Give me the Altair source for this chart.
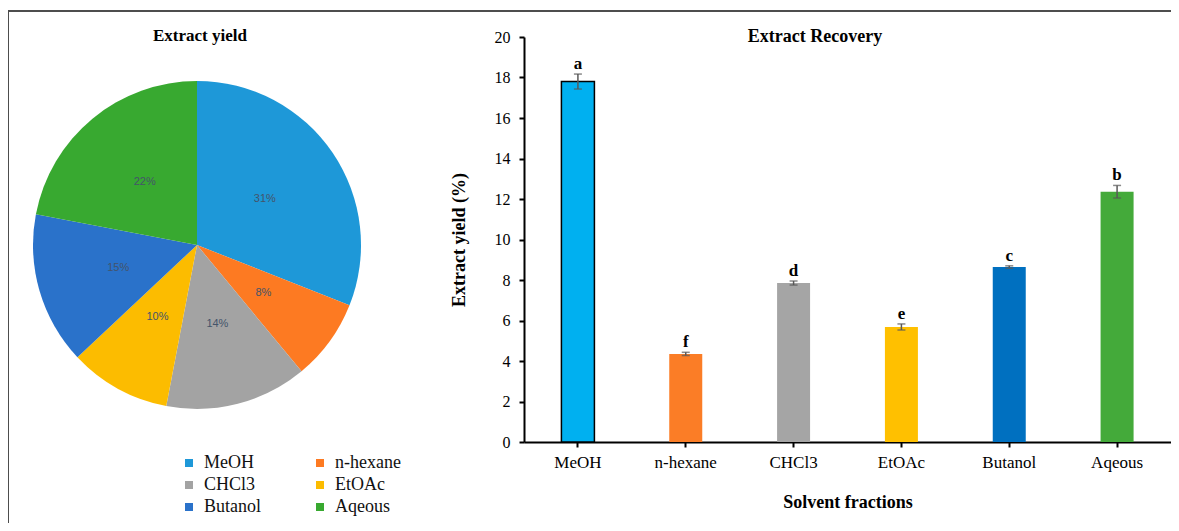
import altair as alt
import pandas as pd

# ---- data ----
solvents = ["MeOH", "n-hexane", "CHCl3", "EtOAc", "Butanol", "Aqeous"]
pie_pct = [31, 8, 14, 10, 15, 22]
yields = [17.8, 4.35, 7.85, 5.68, 8.64, 12.36]
errors = [0.37, 0.08, 0.10, 0.15, 0.06, 0.31]
letters = ["a", "f", "d", "e", "c", "b"]
y_ticks = [0, 2, 4, 6, 8, 10, 12, 14, 16, 18, 20]

pie_colors = ["#1E98D8", "#FD7A22", "#A3A3A3", "#FCBC00", "#2A72CA", "#38A930"]
bar_colors = ["#00B0F0", "#FB7D26", "#A5A5A5", "#FFC000", "#0070C0", "#44AA3A"]

SERIF = "Liberation Serif"

pie_df = pd.DataFrame({
    "solvent": solvents,
    "pct": pie_pct,
    "label": [f"{p}%" for p in pie_pct],
    "idx": list(range(len(solvents))),
})
bar_df = pd.DataFrame({
    "solvent": solvents,
    "yield": yields,
    "lo": [v - e for v, e in zip(yields, errors)],
    "hi": [v + e for v, e in zip(yields, errors)],
    "letter": letters,
})

# layout (pixels relative to bar plot origin)
PW, PH = 647, 405
CX, CY, R = -327, 208, 164

one = pd.DataFrame({"k": [0]})
frame_top = alt.Chart(one).mark_rule(stroke="#4d4d4d", strokeWidth=2).encode(
    x=alt.value(-516), x2=alt.value(PW), y=alt.value(-26), y2=alt.value(-26)
)
frame_left = alt.Chart(one).mark_rule(stroke="#4d4d4d", strokeWidth=2).encode(
    x=alt.value(-516), x2=alt.value(-516), y=alt.value(-27), y2=alt.value(PH + 81)
)

pie = alt.Chart(pie_df).mark_arc(radius=R).encode(
    theta=alt.Theta("pct:Q", stack=True),
    order=alt.Order("idx:Q"),
    color=alt.Color(
        "solvent:N",
        sort=solvents,
        scale=alt.Scale(domain=solvents, range=pie_colors),
        legend=alt.Legend(
            title=None, orient="none", legendX=-344, legendY=417,
            columns=2, columnPadding=50, rowPadding=4,
            symbolType="square", symbolSize=64, symbolStrokeWidth=0,
            labelFont=SERIF, labelFontSize=18, labelColor="#111111",
            labelOffset=6, direction="horizontal",
        ),
    ),
    x=alt.value(CX), y=alt.value(CY),
)

pie_labels = alt.Chart(pie_df).mark_text(
    radius=82, font="Liberation Sans", fontSize=11, color="#44546A"
).encode(
    theta=alt.Theta("pct:Q", stack=True),
    order=alt.Order("idx:Q"),
    text="label:N",
    x=alt.value(CX), y=alt.value(CY),
)

pie_title = alt.Chart(pd.DataFrame({"t": ["Extract yield"]})).mark_text(
    font=SERIF, fontSize=17, fontWeight="bold", color="black", baseline="middle"
).encode(text="t:N", x=alt.value(-324), y=alt.value(-1))

bar_title = alt.Chart(pd.DataFrame({"t": ["Extract Recovery"]})).mark_text(
    font=SERIF, fontSize=18, fontWeight="bold", color="black", baseline="middle"
).encode(text="t:N", x=alt.value(291), y=alt.value(0))

xenc = alt.X(
    "solvent:N", sort=solvents,
    scale=alt.Scale(domain=solvents, paddingInner=0, paddingOuter=0),
    axis=alt.Axis(
        title="Solvent fractions", labelAngle=0, labelFont=SERIF, labelFontSize=17,
        labelColor="black", labelPadding=7, domainColor="black", domainWidth=2,
        tickColor="black", tickWidth=2, tickSize=5,
        titleFont=SERIF, titleFontSize=18, titleFontWeight="bold", titleColor="black",
        titleY=65, titleBaseline="alphabetic",
    ),
)
yenc = alt.Y(
    "yield:Q",
    scale=alt.Scale(domain=[0, 20], nice=False),
    axis=alt.Axis(
        title="Extract yield (%)", values=y_ticks, grid=False,
        labelFont=SERIF, labelFontSize=16, labelColor="black", labelPadding=9,
        domainColor="black", domainWidth=2, tickColor="black", tickWidth=2, tickSize=5,
        titleFont=SERIF, titleFontSize=18, titleFontWeight="bold", titleColor="black",
        titleX=-65, titleY=PH / 2, titleAngle=270, titleBaseline="middle", titleAlign="center",
    ),
)

bars = alt.Chart(bar_df).mark_bar(size=33).encode(
    x=xenc, y=yenc,
    color=alt.Color("solvent:N", scale=alt.Scale(domain=solvents, range=bar_colors), legend=None),
    stroke=alt.condition(alt.datum.solvent == "MeOH", alt.value("black"), alt.value(None)),
    strokeWidth=alt.value(1.5),
)

err_rule = alt.Chart(bar_df).mark_rule(color="#595959", strokeWidth=1.5).encode(
    x=alt.X("solvent:N", sort=solvents), y="lo:Q", y2="hi:Q"
)
err_lo = alt.Chart(bar_df).mark_tick(color="#595959", thickness=1.5, size=8).encode(
    x=alt.X("solvent:N", sort=solvents), y="lo:Q"
)
err_hi = alt.Chart(bar_df).mark_tick(color="#595959", thickness=1.5, size=8).encode(
    x=alt.X("solvent:N", sort=solvents), y="hi:Q"
)
letters_txt = alt.Chart(bar_df).mark_text(
    font=SERIF, fontSize=17, fontWeight="bold", color="black", baseline="alphabetic", dy=-5
).encode(x=alt.X("solvent:N", sort=solvents), y="hi:Q", text="letter:N")

chart = alt.layer(
    frame_top, frame_left, pie, pie_labels, pie_title, bar_title,
    bars, err_rule, err_lo, err_hi, letters_txt
).resolve_scale(color="independent").properties(
    width=PW, height=PH,
    autosize=alt.AutoSizeParams(type="none"),
    padding={"left": 516, "top": 29, "right": 0, "bottom": 81},
    background="white",
).configure(font=SERIF).configure_view(stroke=None)

chart.save("out.html", embed_options={"renderer": "svg", "actions": False})
